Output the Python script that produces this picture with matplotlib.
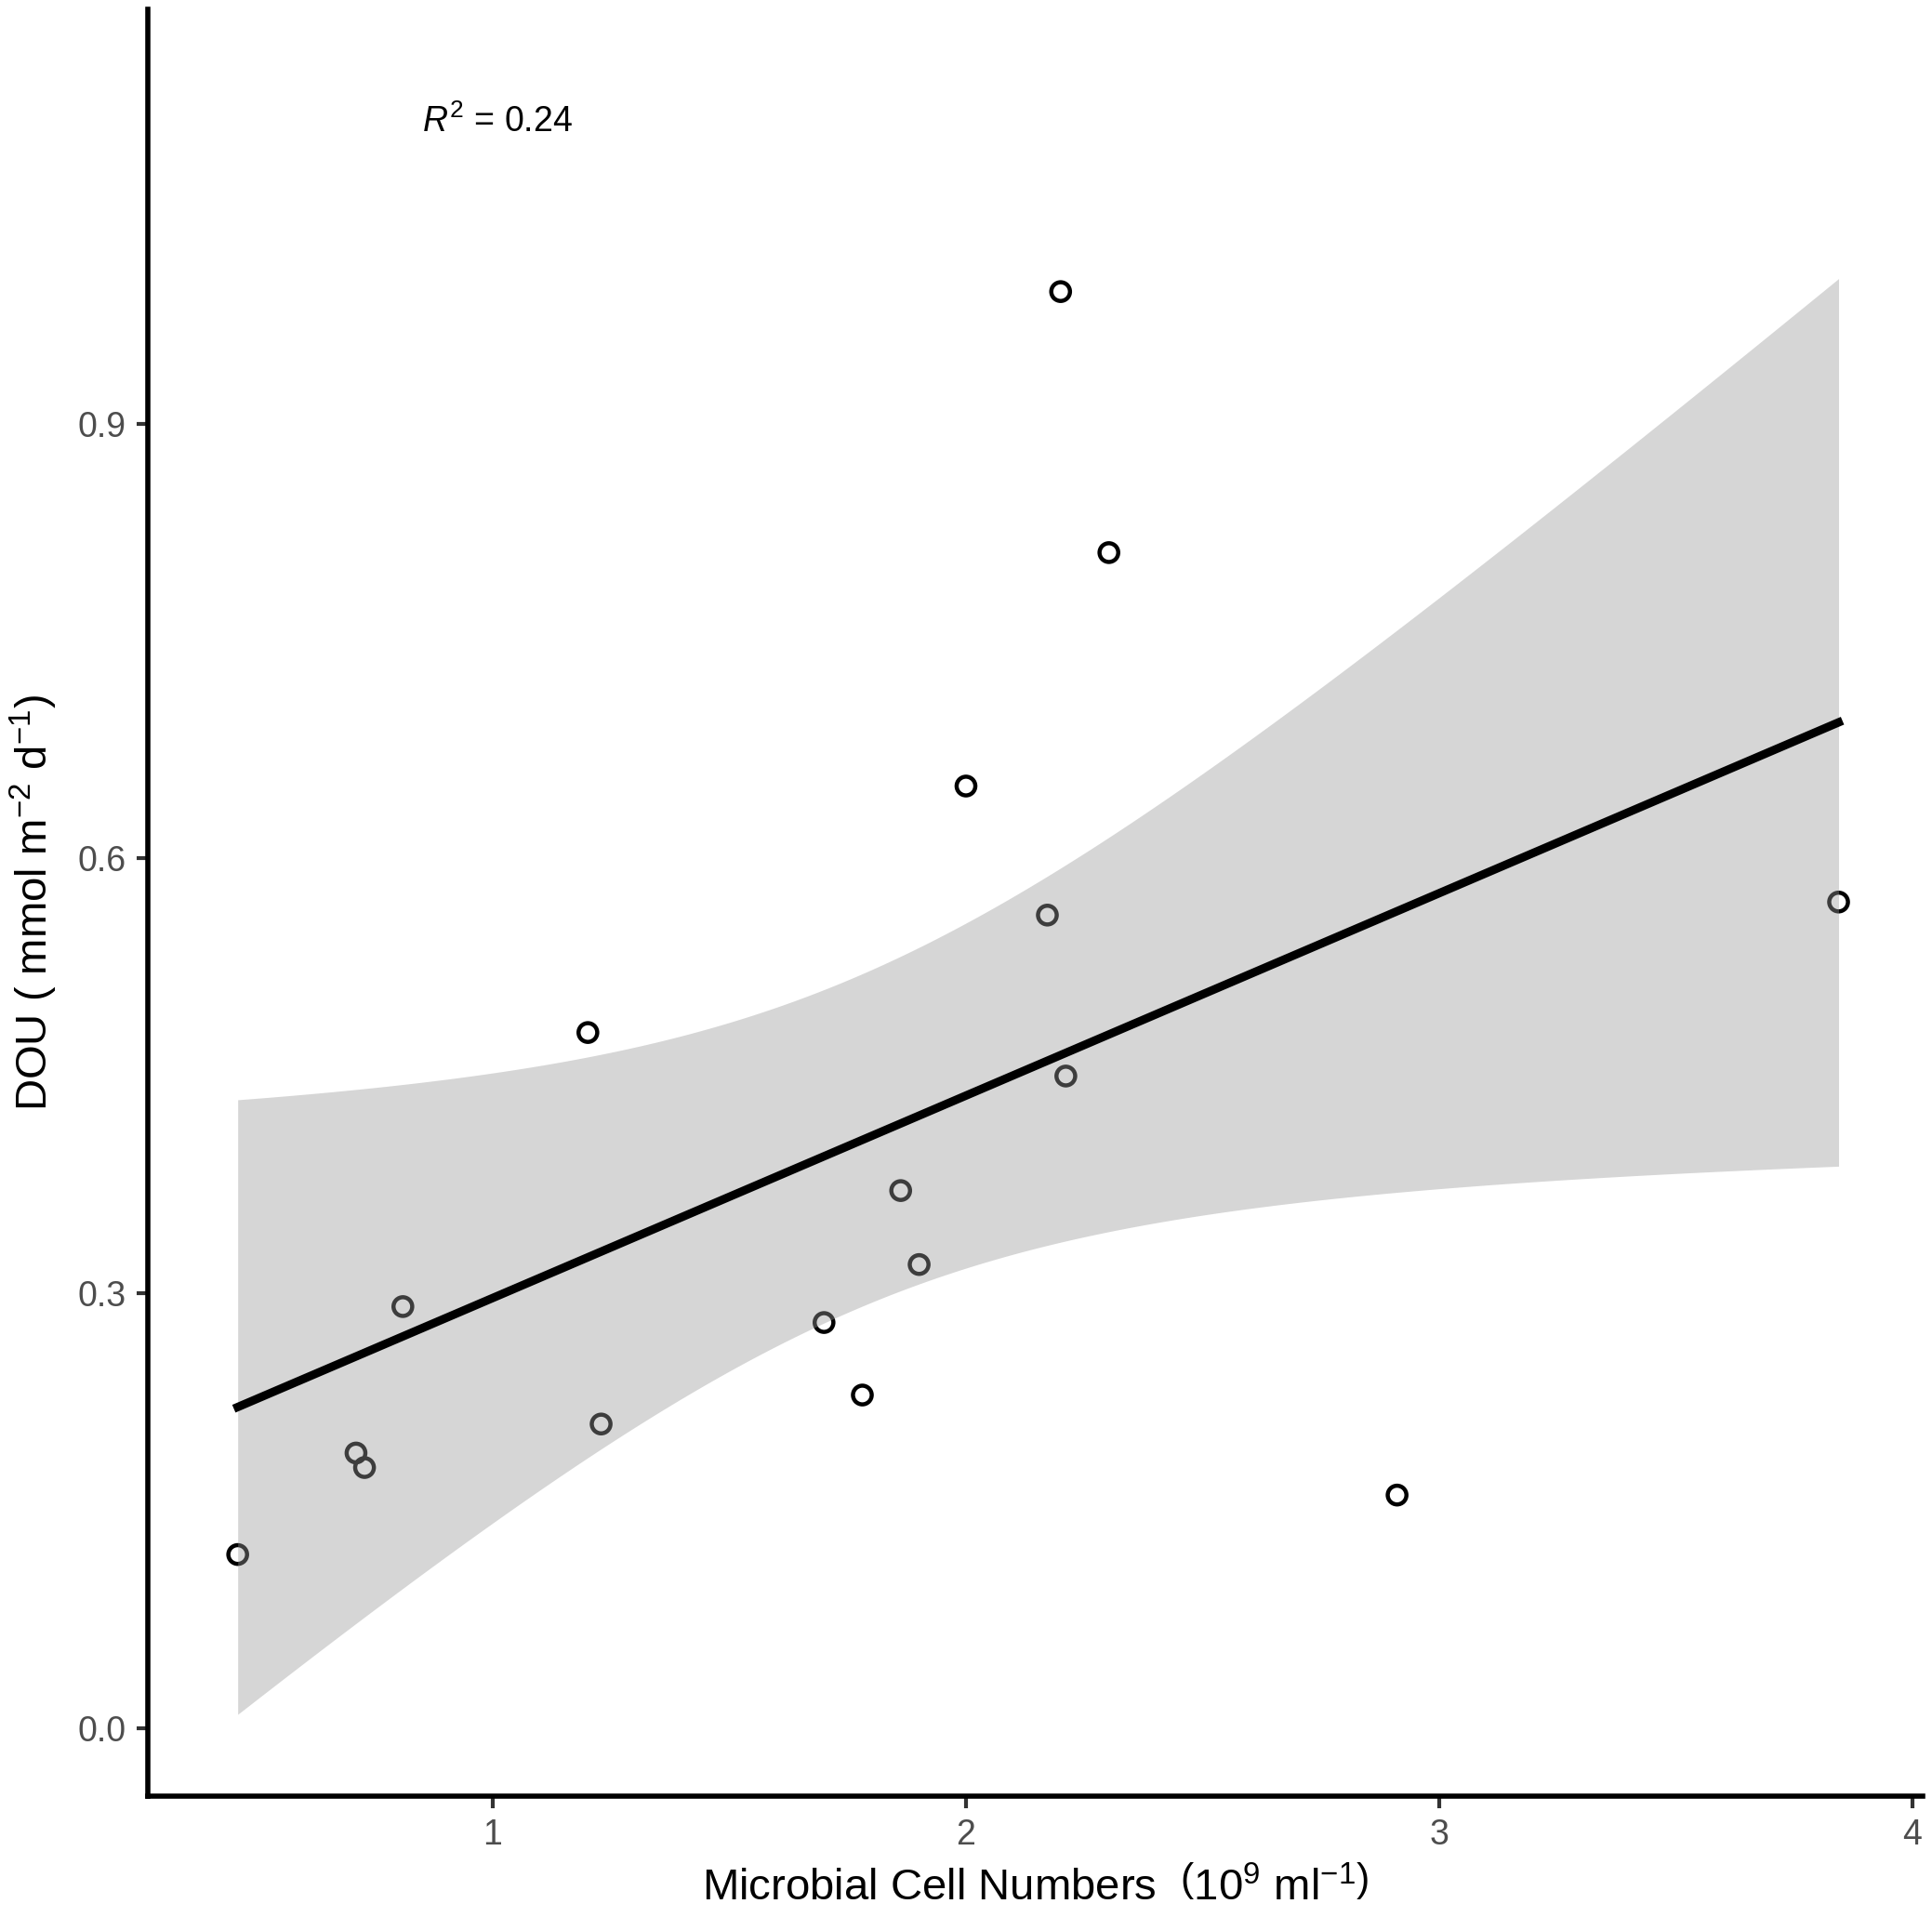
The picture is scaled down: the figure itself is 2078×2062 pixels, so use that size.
import numpy as np
import matplotlib
matplotlib.use("Agg")
import matplotlib.pyplot as plt

plt.rcParams['font.family'] = ['Liberation Sans', 'DejaVu Sans']
plt.rcParams['mathtext.fontset'] = 'custom'
plt.rcParams['mathtext.rm'] = 'Liberation Sans'
plt.rcParams['mathtext.it'] = 'Liberation Sans:italic'

# microbial cell numbers (10^9 ml^-1) and DOU (mmol m^-2 d^-1)
cells = [0.461, 0.711, 0.729, 0.810, 1.201, 1.229, 1.700, 1.781, 1.862,
         1.901, 2.000, 2.172, 2.200, 2.211, 2.302, 2.911, 3.844]
dou = [0.120, 0.190, 0.180, 0.291, 0.480, 0.210, 0.280, 0.230, 0.371,
       0.320, 0.650, 0.561, 0.991, 0.450, 0.811, 0.161, 0.570]
r2_label = "0.24"
t_crit = 2.131  # t(0.975, df=15)

x = np.array(cells)
y = np.array(dou)
n = len(x)
slope, intercept = np.polyfit(x, y, 1)
xs = np.linspace(x.min(), x.max(), 200)
fit = intercept + slope * xs
resid = y - (intercept + slope * x)
s = np.sqrt(np.sum(resid ** 2) / (n - 2))
sxx = np.sum((x - x.mean()) ** 2)
se = s * np.sqrt(1 / n + (xs - x.mean()) ** 2 / sxx)

fig = plt.figure(figsize=(20.78, 20.62), dpi=100)
ax = fig.add_axes([0.0765, 0.063, 0.9185, 0.932])

ax.scatter(x, y, s=210, facecolors='none', edgecolors='black', linewidths=3.2, zorder=2)
ax.fill_between(xs, fit - t_crit * se, fit + t_crit * se, color='#999999', alpha=0.4,
                linewidth=0, zorder=3)
ax.plot(xs, fit, color='black', linewidth=6.5, zorder=4)

ax.text(0.85, 1.108, "$R^2$ = " + r2_label, fontsize=27, ha='left', va='center')

ax.set_xlim(0.271, 4.021)
ax.set_ylim(-0.0467, 1.1855)
ax.set_xticks([1, 2, 3, 4])
ax.set_yticks([0.0, 0.3, 0.6, 0.9])
ax.set_yticklabels(["0.0", "0.3", "0.6", "0.9"])

for side in ['top', 'right']:
    ax.spines[side].set_visible(False)
for side in ['left', 'bottom']:
    ax.spines[side].set_linewidth(4)
    ax.spines[side].set_color('black')
ax.tick_params(length=9, width=3, color='#333333', labelcolor='#4D4D4D',
               labelsize=27, pad=8)

ax.set_xlabel(r"Microbial Cell Numbers  $\left(10^9\ \mathrm{ml}^{-1}\right)$",
              fontsize=34, labelpad=12)
ax.set_ylabel(r"DOU ( mmol m$^{-2}$ d$^{-1}$)", fontsize=34, labelpad=14)

fig.savefig("out.png", dpi=100)
